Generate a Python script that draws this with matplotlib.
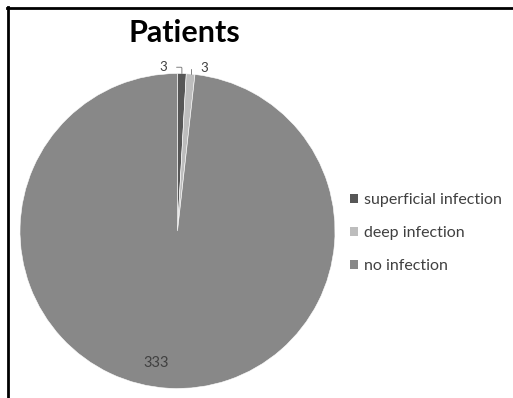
import numpy as np
import matplotlib
matplotlib.use("Agg")
import matplotlib.pyplot as plt
from matplotlib.lines import Line2D

categories = ["superficial infection", "deep infection", "no infection"]
patients = [3, 3, 333]
colors = ["#575757", "#bdbdbd", "#888888"]
title = "Patients"

plt.rcParams["font.family"] = ["Lato", "DejaVu Sans"]

fig = plt.figure(figsize=(5.13, 3.98), dpi=100)
ax = fig.add_axes([20 / 513, 9 / 398, 315 / 513, 316 / 398])

wedges, _ = ax.pie(patients, colors=colors, startangle=90, counterclock=False,
                   wedgeprops=dict(edgecolor="white", linewidth=0.4))
ax.set_xlim(-1, 1)
ax.set_ylim(-1, 1)
ax.set_aspect("equal")
ax.axis("off")

# value labels for the two thin slices, outside with leader lines
for w, val, dx in zip(wedges[:2], patients[:2], (-0.12, 0.085)):
    mid = np.deg2rad((w.theta1 + w.theta2) / 2)
    px, py = np.cos(mid), np.sin(mid)
    ax.annotate(str(val), xy=(px, py), xytext=(px + dx, py + 0.04),
                ha="center", va="center", fontsize=9.5, color="#404040",
                arrowprops=dict(arrowstyle="-", color="#808080", lw=0.7,
                                shrinkA=5, shrinkB=0,
                                connectionstyle="angle,angleA=0,angleB=90,rad=1"),
                annotation_clip=False)

# value label inside the large slice
w = wedges[2]
mid = np.deg2rad((w.theta1 + w.theta2) / 2 - 6)
ax.text(0.85 * np.cos(mid), 0.85 * np.sin(mid), str(patients[2]),
        ha="center", va="center", fontsize=10.5, color="#404040")

fig.text(184 / 513, 1 - 33 / 398, title, ha="center", va="center",
         fontsize=22, fontweight="bold", color="#000000")

handles = [plt.Rectangle((0, 0), 1, 1, facecolor=c, edgecolor="none") for c in colors]
fig.legend(handles, categories, loc="upper left", bbox_to_anchor=(350 / 513, 1 - 193 / 398),
           frameon=False, fontsize=11.5, labelcolor="#404040", handlelength=0.5,
           handleheight=0.5, handletextpad=0.4, labelspacing=1.2, borderpad=0,
           borderaxespad=0)

# frame lines along the top and left
fig.add_artist(Line2D([7 / 513, 1], [1 - 7.5 / 398] * 2, color="black", lw=2))
fig.add_artist(Line2D([7.5 / 513] * 2, [0, 1 - 7 / 398], color="black", lw=2))

fig.savefig("out.png", dpi=100)
